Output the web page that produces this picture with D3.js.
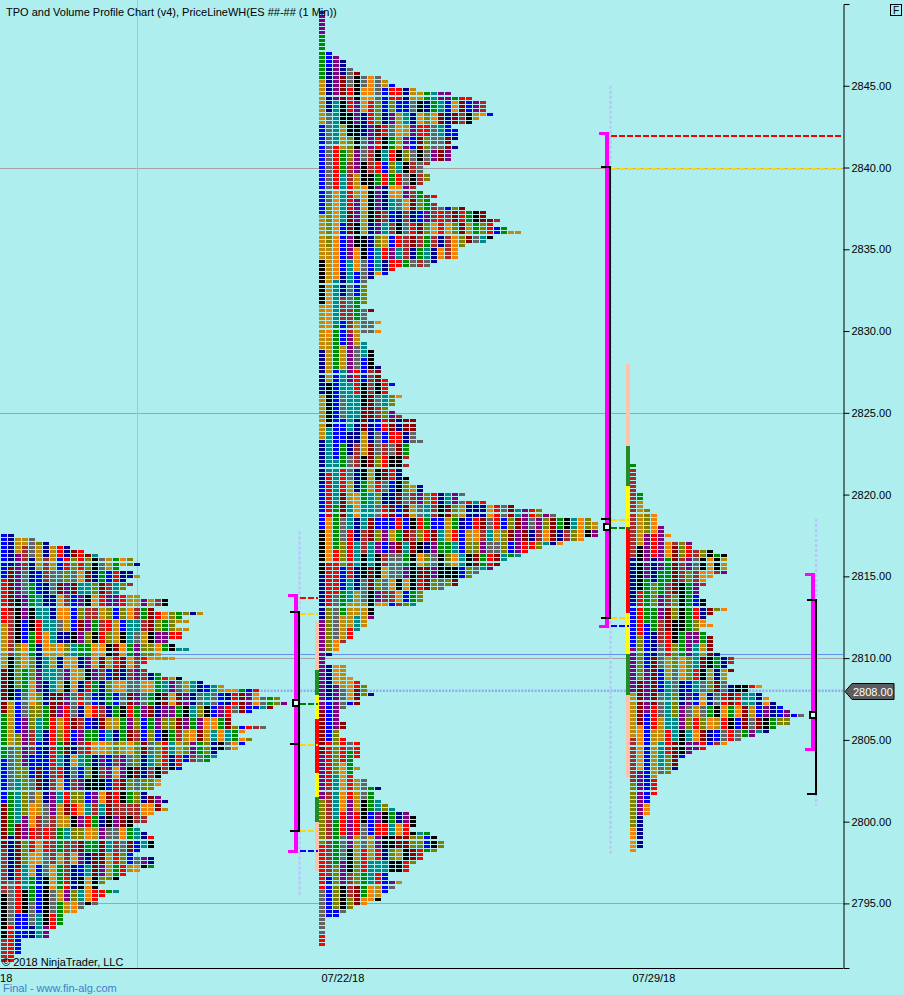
<!DOCTYPE html>
<html><head><meta charset="utf-8">
<script src="https://cdn.jsdelivr.net/npm/d3@7"></script>
<style>
body{margin:0;background:#afeeee;overflow:hidden}
svg{display:block}
text{font-family:"Liberation Sans",Arial,sans-serif}
</style>
</head><body>
<svg id="c" width="904" height="995"></svg>
<script>
// ---------------- DATA ----------------
const tickSize = 0.25;
const priceTicks = [2795, 2800, 2805, 2810, 2815, 2820, 2825, 2830, 2835, 2840, 2845];
const gridPrices = [2840, 2825, 2810, 2795];
const gridDates = [new Date(2018, 6, 17, 21, 50)];
const dateTickDates = [new Date(2018, 6, 14, 1, 50), new Date(2018, 6, 22), new Date(2018, 6, 29)];
const dateTickLabels = ["07/15/18", "07/22/18", "07/29/18"];

// TPO profiles: start time, top price, row lengths (TPO count per 0.25 row, top -> bottom)
const profileStarts = [new Date(2018, 6, 14, 20, 10), new Date(2018, 6, 22), new Date(2018, 6, 29)];
const profileTops = [2817.5, 2849.5, 2821.75];

const profile1Counts = [2,5,7,10,12,14,19,20,17,19,20,18,19,18,17,20,24,24,22,29,26,27,25,27,26,26,24,25,27,23,
  25,21,20,21,23,26,29,32,37,37,40,41,39,36,33,33,33,38,35,34,36,
  35,34,31,31,30,26,26,24,23,23,23,22,21,23,24,23,24,22,21,21,19,20,21,22,22,22,20,19,22,22,22,20,18,17,15,14,17,15,14,14,
  12,11,9,9,9,8,7,7,3,3,3,3,2,2];

const profile2Counts = [1,1,1,1,1,1,1,1,1,1,
  2,3,4,4,5,6,
  9,10,11,14,19,22,24,24,24,25,23,22,
  19,20,20,20,19,20,19,19,19,
  16,15,15,16,16,15,14,15,17,16,17,
  21,24,24,26,25,27,29,25,24,21,20,20,20,
  17,16,11,10,8,
  7,7,7,7,7,7,
  6,8,7,7,9,8,9,6,6,7,7,8,8,8,8,9,9,9,
  10,11,10,10,12,11,11,10,11,12,
  14,14,14,14,14,15,
  13,13,13,13,12,13,12,12,13,13,15,15,
  21,20,24,28,32,34,39,40,40,40,40,38,
  35,32,30,29,27,26,25,23,22,20,20,18,15,15,15,14,
  8,8,8,7,7,6,5,5,4,3,3,2,1,1,
  4,4,4,5,6,7,7,8,6,6,4,3,3,3,4,4,3,3,4,6,6,6,6,5,5,6,
  5,5,7,7,9,8,8,9,10,11,13,14,14,14,13,16,17,18,18,17,15,15,14,13,13,10,10,12,11,10,9,9,7,5,4,3,
  1,1,1,1,1,1,1];

const profile3Counts = [1,1,1,1,1,1,1,2,2,2,2,3,4,4,4,5,5,6,5,9,9,12,14,14,14,14,14,12,11,11,10,10,
  10,11,11,14,12,11,11,12,10,11,12,12,12,12,13,15,15,14,15,14,14,14,19,17,19,20,21,22,23,25,23,23,21,20,18,16,14,11,9,8,7,7,7,6,4,4,4,4,4,3,3,3,3,3,
  2,2,2,2,2,2,2,2,1];

// deviation bands left of profiles 2 and 3 (price boundaries, top -> bottom)
const bandColors = ["#ffc3ad", "#228b22", "#ffff00", "#ff0000", "#ffff00", "#228b22", "#ffc3ad"];
const profile2Bands = [2812.25, 2809.25, 2807.75, 2806.25, 2803.0, 2801.5, 2800.0, 2797.0];
const profile3Bands = [2828.0, 2823.0, 2820.5, 2818.0, 2812.75, 2810.25, 2807.75, 2802.75];

// range markers (magenta range, black body, levels)
const rangeDates = [new Date(2018, 6, 21, 11, 35), new Date(2018, 6, 28, 11, 35), new Date(2018, 7, 2, 2, 40)];
const rangeHigh = [2813.75, 2842.0, 2815.0];
const rangeLow = [2798.25, 2812.0, 2804.5];
const bodyHigh = [2812.75, 2840.0, 2813.5];
const bodyLow = [2799.5, 2812.5, 2801.75];
const midLevel = [2804.75, 2818.5, null];
const pocLevel = [2807.25, 2818.0, 2806.5];
const levelsExtend = [false, true, false];

// faint volume lines
const vpTop = [2817.75, 2845.0, 2818.5];
const vpBottom = [2795.5, 2798.0, 2801.0];

const lastPrice = 2808.0;
const blueLevel = 2810.25;

const palette = ["#8b0000", "#f58200", "#008c00", "#000000", "#008b8b", "#00008b", "#0000ff",
  "#ff0000", "#646464", "#808000", "#c08a08", "#800080", "#a52a2a"];

// ---------------- CHART ----------------
const svg = d3.select("#c");
const plotRight = 843, plotBottom = 968, plotTop = 4;
const colPitch = 7, blockW = 6, blockH = 3;

const y = d3.scaleLinear().domain([2791.05, 2850]).range([plotBottom, plotTop]);
const x = d3.scaleTime().domain([new Date(2018, 6, 22), new Date(2018, 6, 29)]).range([319, 630]);

svg.append("rect").attr("width", 904).attr("height", 995).attr("fill", "#afeeee");

// grid
svg.append("g").selectAll("line").data(gridPrices).join("line")
  .attr("x1", 0).attr("x2", plotRight)
  .attr("y1", d => Math.round(y(d)) + 0.5).attr("y2", d => Math.round(y(d)) + 0.5)
  .attr("stroke", "#a4a4a4").attr("stroke-width", 1);
svg.append("g").selectAll("line").data(gridDates).join("line")
  .attr("x1", d => Math.round(x(d)) + 0.5).attr("x2", d => Math.round(x(d)) + 0.5)
  .attr("y1", 0).attr("y2", plotBottom)
  .attr("stroke", "#c9b3bd").attr("stroke-width", 1);

// blue level line and dotted last price line
svg.append("line").attr("x1", 0).attr("x2", plotRight)
  .attr("y1", Math.round(y(blueLevel)) + 0.5).attr("y2", Math.round(y(blueLevel)) + 0.5)
  .attr("stroke", "#6690ea").attr("stroke-width", 1);
svg.append("line").attr("x1", 0).attr("x2", plotRight)
  .attr("y1", y(lastPrice)).attr("y2", y(lastPrice))
  .attr("stroke", "#94aaf2").attr("stroke-width", 2.5).attr("stroke-dasharray", "2,1.3");

// TPO blocks
function colorIndex(pi, r, c) {
  const runLen = c < 3 ? 11 : (c < 8 ? 6 : 3);
  const run = Math.floor((r + c * 3 + pi * 5) / runLen);
  let h = Math.imul(run + 17, 0x9E3779B1) ^ Math.imul(c + 7 + pi * 31, 0x85EBCA77);
  h ^= h >>> 15; h = Math.imul(h, 0x2C1B3C6D); h ^= h >>> 12; h = Math.imul(h, 0x297A2D39); h ^= h >>> 15;
  return (h >>> 0) % palette.length;
}
const profileCounts = [profile1Counts, profile2Counts, profile3Counts];
profileCounts.forEach((counts, pi) => {
  const x0 = Math.round(x(profileStarts[pi]));
  const cells = [];
  counts.forEach((L, r) => {
    const price = profileTops[pi] - r * tickSize;
    for (let c = 0; c < L; c++) cells.push({ price, r, c });
  });
  svg.append("g").attr("shape-rendering", "crispEdges")
    .selectAll("rect").data(cells).join("rect")
    .attr("x", d => x0 + d.c * colPitch)
    .attr("y", d => Math.round(y(d.price) - blockH / 2))
    .attr("width", blockW).attr("height", blockH)
    .attr("fill", d => palette[colorIndex(pi, d.r, d.c)]);
});

// deviation bands
[[1, profile2Bands], [2, profile3Bands]].forEach(([pi, bands]) => {
  const x0 = Math.round(x(profileStarts[pi]));
  const segs = bandColors.map((col, i) => ({ col, a: bands[i], b: bands[i + 1] }));
  svg.append("g").attr("shape-rendering", "crispEdges").selectAll("rect").data(segs).join("rect")
    .attr("x", x0 - 4).attr("width", 4)
    .attr("y", d => y(d.a)).attr("height", d => y(d.b) - y(d.a))
    .attr("fill", d => d.col);
});

// faint volume lines
svg.append("g").selectAll("line").data(rangeDates).join("line")
  .attr("x1", d => x(d) + 3.5).attr("x2", d => x(d) + 3.5)
  .attr("y1", (d, i) => y(vpTop[i])).attr("y2", (d, i) => y(vpBottom[i]))
  .attr("stroke", "#b9c6fb").attr("stroke-width", 2.5).attr("stroke-dasharray", "3,2");

// range markers
const rg = svg.append("g").attr("shape-rendering", "crispEdges");
rangeDates.forEach((d, i) => {
  const cx = Math.round(x(d));
  const yh = Math.round(y(rangeHigh[i])), yl = Math.round(y(rangeLow[i]));
  const bh = Math.round(y(bodyHigh[i])), bl = Math.round(y(bodyLow[i]));
  const levels = [
    { p: rangeHigh[i], c: "#ff0000", ext: levelsExtend[i] },
    { p: bodyHigh[i], c: "#ffd700", ext: levelsExtend[i] },
    { p: midLevel[i], c: "#ffd700", ext: false },
    { p: pocLevel[i], c: "#008000", ext: false },
    { p: bodyLow[i], c: "#ffd700", ext: false },
    { p: rangeLow[i], c: "#0000ff", ext: false }
  ].filter(l => l.p !== null);
  if (i < 2) {
    const x2short = Math.round(x(profileStarts[i + 1])) - 1;
    levels.forEach(l => {
      rg.append("line").attr("x1", cx + 4).attr("x2", l.ext ? plotRight : x2short)
        .attr("y1", Math.round(y(l.p)) + 0.5).attr("y2", Math.round(y(l.p)) + 0.5)
        .attr("stroke", l.c).attr("stroke-width", 2).attr("stroke-dasharray", "6,2");
    });
  }
  // magenta range
  rg.append("rect").attr("x", cx - 2).attr("y", yh - 3).attr("width", 4).attr("height", yl - yh + 6).attr("fill", "#ff00ff");
  rg.append("rect").attr("x", cx - 8).attr("y", yh - 3).attr("width", 10).attr("height", 3).attr("fill", "#ff00ff");
  rg.append("rect").attr("x", cx - 8).attr("y", yl).attr("width", 10).attr("height", 3).attr("fill", "#ff00ff");
  // black body
  rg.append("rect").attr("x", cx + 2).attr("y", bh - 2).attr("width", 2).attr("height", bl - bh + 4).attr("fill", "#000");
  rg.append("rect").attr("x", cx - 6).attr("y", bh - 2).attr("width", 10).attr("height", 2).attr("fill", "#000");
  rg.append("rect").attr("x", cx - 6).attr("y", bl).attr("width", 10).attr("height", 2).attr("fill", "#000");
  if (midLevel[i] !== null) {
    const ym = Math.round(y(midLevel[i]));
    rg.append("rect").attr("x", cx - 6).attr("y", ym - 1).attr("width", 10).attr("height", 2).attr("fill", "#000");
  }
  // poc square
  const yp = Math.round(y(pocLevel[i]));
  rg.append("rect").attr("x", cx - 3).attr("y", yp - 3).attr("width", 6).attr("height", 6)
    .attr("fill", "#dffcff").attr("stroke", "#000").attr("stroke-width", 2);
});

// axes
const yAxis = d3.axisRight(y).tickValues(priceTicks).tickSize(6).tickSizeOuter(6).tickPadding(2)
  .tickFormat(d3.format(".2f"));
const ga = svg.append("g").attr("transform", `translate(${plotRight + 0.5},0)`).call(yAxis);
ga.select(".domain").attr("stroke", "#000");
ga.selectAll(".tick line").attr("stroke", "#000");
ga.selectAll(".tick text").attr("font-size", 11).attr("fill", "#000")
  .attr("font-family", "'Liberation Sans',Arial,sans-serif");

svg.append("line").attr("x1", 0).attr("x2", plotRight + 0.5)
  .attr("y1", plotBottom + 0.5).attr("y2", plotBottom + 0.5).attr("stroke", "#000");

const xAxis = d3.axisBottom(x).tickValues(dateTickDates).tickSize(0).tickPadding(6)
  .tickFormat((d, i) => dateTickLabels[i]);
const gx = svg.append("g").attr("transform", `translate(0,${plotBottom})`).call(xAxis);
gx.select(".domain").remove();
gx.selectAll(".tick text").attr("text-anchor", "start").attr("dx", 2).attr("font-size", 11)
  .attr("fill", "#000").attr("font-family", "'Liberation Sans',Arial,sans-serif");

// last price marker
const ly = Math.round(y(lastPrice)) + 0.5;
svg.append("path")
  .attr("d", `M${plotRight + 2},${ly} L${plotRight + 9},${ly - 8} H${plotRight + 51} V${ly + 8} H${plotRight + 9} Z`)
  .attr("fill", "#5c5c5c").attr("stroke", "#000").attr("stroke-width", 1);
svg.append("text").attr("x", plotRight + 10).attr("y", ly + 4).attr("font-size", 11)
  .attr("fill", "#fff").text(d3.format(".2f")(lastPrice));

// texts
svg.append("text").attr("x", 6).attr("y", 16).attr("font-size", 11).attr("fill", "#000")
  .text("TPO and Volume Profile Chart (v4), PriceLineWH(ES ##-## (1 Min))");
svg.append("text").attr("x", 2).attr("y", 966).attr("font-size", 11).attr("fill", "#000")
  .text("© 2018 NinjaTrader, LLC");
svg.append("text").attr("x", 3).attr("y", 992).attr("font-size", 11).attr("fill", "#3a80c8")
  .text("Final - www.fin-alg.com");
svg.append("rect").attr("x", 890.5).attr("y", 4.5).attr("width", 11).attr("height", 11)
  .attr("fill", "none").attr("stroke", "#000");
svg.append("text").attr("x", 896).attr("y", 13.5).attr("font-size", 10).attr("text-anchor", "middle")
  .attr("fill", "#000").text("F");
</script>
</body></html>
